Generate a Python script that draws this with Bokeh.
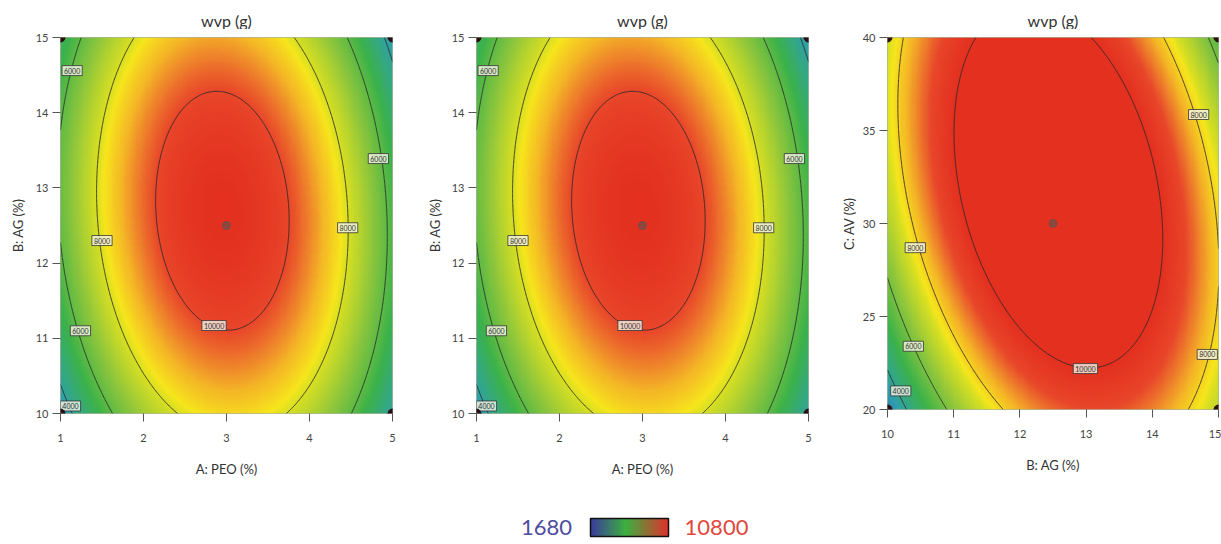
import numpy as np
from bokeh.plotting import figure
from bokeh.layouts import row, column
from bokeh.models import LinearColorMapper, Range1d, FixedTicker
from bokeh.core.properties import value
from bokeh.embed import file_html
from bokeh.resources import INLINE

FONT = "Lato"
z_min, z_max = 1680, 10800
levels = [4000, 6000, 8000, 10000]
title_text = "wvp (g)"

# ---- contour readings, panels 1 & 2 (A: PEO, B: AG, level) ----
p1_a = [2.97, 3.0, 2.12, 3.75, 2.2, 3.75, 2.89,
        1.48, 4.46, 2.45, 3.69, 1.93, 3.77,
        1.22, 1.02, 1.0, 1.24, 1.64, 4.46, 4.85, 4.93,
        1.08, 1.0, 4.94, 5.0, 3.0]
p1_b = [14.25, 11.1, 13.0, 13.0, 11.9, 11.9, 14.23,
        12.35, 12.5, 10.0, 10.0, 15.0, 15.0,
        15.0, 14.0, 12.4, 11.1, 10.0, 15.0, 13.4, 12.0,
        10.0, 10.5, 15.0, 14.6, 12.6]
p1_w = [10000, 10000, 10000, 10000, 10000, 10000, 10000,
        8000, 8000, 8000, 8000, 8000, 8000,
        6000, 6000, 6000, 6000, 6000, 6000, 6000, 6000,
        4000, 4000, 4000, 4000, 10800]

# ---- contour readings, panel 3 (B: AG, C: AV, level) ----
p3_b = [11.36, 11.0, 11.1, 11.81, 12.9, 13.17, 13.82, 14.2, 14.12, 12.27, 13.7,
        10.2, 10.24, 10.42, 10.9, 11.66, 14.17, 14.7, 14.95, 14.83, 14.47,
        10.0, 10.4, 10.85, 14.88, 15.0,
        10.0, 10.17, 10.4, 12.6]
p3_c = [40.0, 35.7, 30.0, 25.0, 22.2, 40.0, 35.7, 30.0, 25.0, 23.2, 23.2,
        40.0, 35.7, 28.7, 24.9, 20.0, 40.0, 35.9, 30.0, 22.9, 20.0,
        26.6, 23.4, 20.0, 40.0, 38.0,
        21.9, 21.0, 20.0, 32.0]
p3_w = [10000] * 11 + [8000] * 10 + [6000] * 5 + [4000] * 3 + [10800]

# ---- contour label texts & spots ----
lab1_x = [1.14, 1.5, 1.24, 1.12, 4.46, 4.83, 2.85]
lab1_y = [14.56, 12.3, 11.1, 10.1, 12.47, 13.39, 11.17]
lab1_t = ["6000", "8000", "6000", "4000", "8000", "6000", "10000"]
lab3_x = [10.42, 10.39, 10.2, 12.99, 14.83, 14.7]
lab3_y = [28.7, 23.4, 21.0, 22.2, 22.96, 35.86]
lab3_t = ["8000", "6000", "4000", "10000", "8000", "8000"]

# ---- design points ----
d1_x = [1, 5, 1, 5]
d1_y = [15, 15, 10, 10]
c1 = ([3], [12.5])
d3_x = [10, 15, 10, 15]
d3_y = [40, 40, 20, 20]
c3 = ([12.5], [30])

# ---- colour map ----
stops_v = [1680, 3600, 5400, 6800, 8000, 8300, 9000, 9500, 10000, 10800]
stops_c = ["#3b3b9e", "#2e9fb0", "#3cb24a", "#8ec63c", "#d8df22", "#f6e61c",
           "#f4b526", "#ee7f2b", "#e8462a", "#e3301f"]
bar_v = [1680, 5800, 10800]
bar_c = ["#3a3a9c", "#3cb040", "#e0302a"]


def hex2rgb(h):
    return [int(h[i:i + 2], 16) for i in (1, 3, 5)]


def make_palette(vs, cs, n=256):
    t = np.linspace(vs[0], vs[-1], n)
    rgb = np.array([hex2rgb(c) for c in cs], dtype=float)
    out = []
    for v in t:
        r = [np.interp(v, vs, rgb[:, k]) for k in range(3)]
        out.append("#%02x%02x%02x" % tuple(int(round(x)) for x in r))
    return out


pal = make_palette(stops_v, stops_c)
mapper12 = LinearColorMapper(palette=pal, low=z_min, high=z_max)
mapper3 = LinearColorMapper(palette=pal, low=z_min, high=10000)
bar_mapper = LinearColorMapper(palette=make_palette(bar_v, bar_c), low=z_min, high=z_max)


def fit_surface(u, v, w, u0, us, v0, vs):
    u = np.asarray(u, float); v = np.asarray(v, float); w = np.asarray(w, float)
    xa = (u - u0) / us; xb = (v - v0) / vs
    X = np.column_stack([np.ones_like(xa), xa, xb, xa * xb, xa ** 2, xb ** 2])
    coef, *_ = np.linalg.lstsq(X, w, rcond=None)

    def f(U, V):
        a = (U - u0) / us; b = (V - v0) / vs
        return coef[0] + coef[1] * a + coef[2] * b + coef[3] * a * b + coef[4] * a ** 2 + coef[5] * b ** 2
    return f


TOP = 29          # title strip height
H = 498 - TOP     # plot row height


def panel(xr, yr, f, mapper, xticks, yticks, xlab, ylab, labx, laby, labt, dx, dy, cpt,
          bl, br, bt, fw, fh, ylab_standoff):
    p = figure(frame_width=fw, frame_height=fh, x_range=Range1d(*xr), y_range=Range1d(*yr),
               output_backend="svg", toolbar_location=None,
               min_border_left=bl, min_border_right=br, min_border_top=bt,
               min_border_bottom=H - bt - fh)
    nx, ny = 300, 300
    xs = np.linspace(xr[0], xr[1], nx)
    ys = np.linspace(yr[0], yr[1], ny)
    X, Y = np.meshgrid(xs, ys)
    Z = f(X, Y)
    p.image(image=[Z], x=xr[0], y=yr[0], dw=xr[1] - xr[0], dh=yr[1] - yr[0], color_mapper=mapper)
    p.contour(x=xs, y=ys, z=Z, levels=levels, line_color="#2a2a2a", line_width=1.0, line_alpha=0.85)
    p.text(x=labx, y=laby, text=labt, text_font=value(FONT), text_font_size="7px",
           text_color="#333333", text_align="center", text_baseline="middle",
           background_fill_color="#f2f2e6", background_fill_alpha=0.8,
           border_line_color="#333333", border_line_width=0.8, padding=2)
    p.scatter(x=dx, y=dy, size=9, color="#2b0f12")
    p.scatter(x=cpt[0], y=cpt[1], size=8, color="#555555", alpha=0.6)
    p.grid.visible = False
    p.outline_line_color = "#5a6a3a"
    p.outline_line_alpha = 0.5
    p.xaxis.ticker = FixedTicker(ticks=xticks)
    p.yaxis.ticker = FixedTicker(ticks=yticks)
    for ax in (p.xaxis, p.yaxis):
        ax.axis_line_color = None
        ax.major_tick_in = 0
        ax.major_tick_out = 8
        ax.major_tick_line_color = "#555555"
        ax.minor_tick_line_color = None
        ax.major_label_text_font = FONT
        ax.major_label_text_font_size = "11px"
        ax.major_label_text_color = "#444444"
        ax.axis_label_text_font = FONT
        ax.axis_label_text_font_size = "13px"
        ax.axis_label_text_font_style = "normal"
        ax.axis_label_text_color = "#333333"
    p.xaxis.major_label_standoff = 12
    p.yaxis.major_label_standoff = 4
    p.xaxis.axis_label = xlab
    p.yaxis.axis_label = ylab
    p.xaxis.axis_label_standoff = 16
    p.yaxis.axis_label_standoff = ylab_standoff
    return p


f12 = fit_surface(p1_a, p1_b, p1_w, 3.0, 2.0, 12.5, 2.5)
f3 = fit_surface(p3_b, p3_c, p3_w, 12.5, 2.5, 30.0, 10.0)

p1 = panel((1, 5), (10, 15), f12, mapper12, [1, 2, 3, 4, 5], [10, 11, 12, 13, 14, 15],
           "A: PEO (%)", "B: AG (%)", lab1_x, lab1_y, lab1_t, d1_x, d1_y, c1,
           60, 30, 5, 332, 376, 7)
p2 = panel((1, 5), (10, 15), f12, mapper12, [1, 2, 3, 4, 5], [10, 11, 12, 13, 14, 15],
           "A: PEO (%)", "B: AG (%)", lab1_x, lab1_y, lab1_t, d1_x, d1_y, c1,
           54, 29, 5, 332, 376, 6)
p3 = panel((10, 15), (20, 40), f3, mapper3, [10, 11, 12, 13, 14, 15], [20, 25, 30, 35, 40],
           "B: AG (%)", "C: AV (%)", lab3_x, lab3_y, lab3_t, d3_x, d3_y, c3,
           50, 3, 8, 331, 372, 3)

# ---- title strip (one title centred over each panel) ----
pt = figure(width=1221, height=TOP, x_range=Range1d(0, 1221), y_range=Range1d(0, TOP),
            output_backend="svg", toolbar_location=None, min_border=0)
pt.axis.visible = False
pt.grid.visible = False
pt.outline_line_color = None
title_x = [226, 642, 1052.5]
pt.text(x=title_x, y=[TOP - 20] * 3, text=[title_text] * 3, text_font=value(FONT), text_font_size="16px",
        text_color="#333333", text_align="center", text_baseline="middle")

# ---- colour bar strip ----
SH = 44
pb = figure(width=1221, height=SH, x_range=Range1d(0, 1221), y_range=Range1d(0, SH),
            output_backend="svg", toolbar_location=None, min_border=0)
pb.axis.visible = False
pb.grid.visible = False
pb.outline_line_color = None
grad = np.linspace(z_min, z_max, 256)[None, :]
pb.image(image=[grad], x=590, y=6, dw=78, dh=18, color_mapper=bar_mapper)
pb.quad(left=[590], right=[668], bottom=[6], top=[24], fill_color=None, line_color="#111111", line_width=1.5)
pb.text(x=[546], y=[15], text=[str(z_min)], text_font=value(FONT), text_font_size="22px",
        text_color="#4d4d9e", text_align="center", text_baseline="middle")
pb.text(x=[716], y=[15], text=[str(z_max)], text_font=value(FONT), text_font_size="22px",
        text_color="#e2473d", text_align="center", text_baseline="middle")

layout = column(pt, row(p1, p2, p3, spacing=0), pb, spacing=0)
open("out.html", "w").write(file_html(layout, INLINE))
